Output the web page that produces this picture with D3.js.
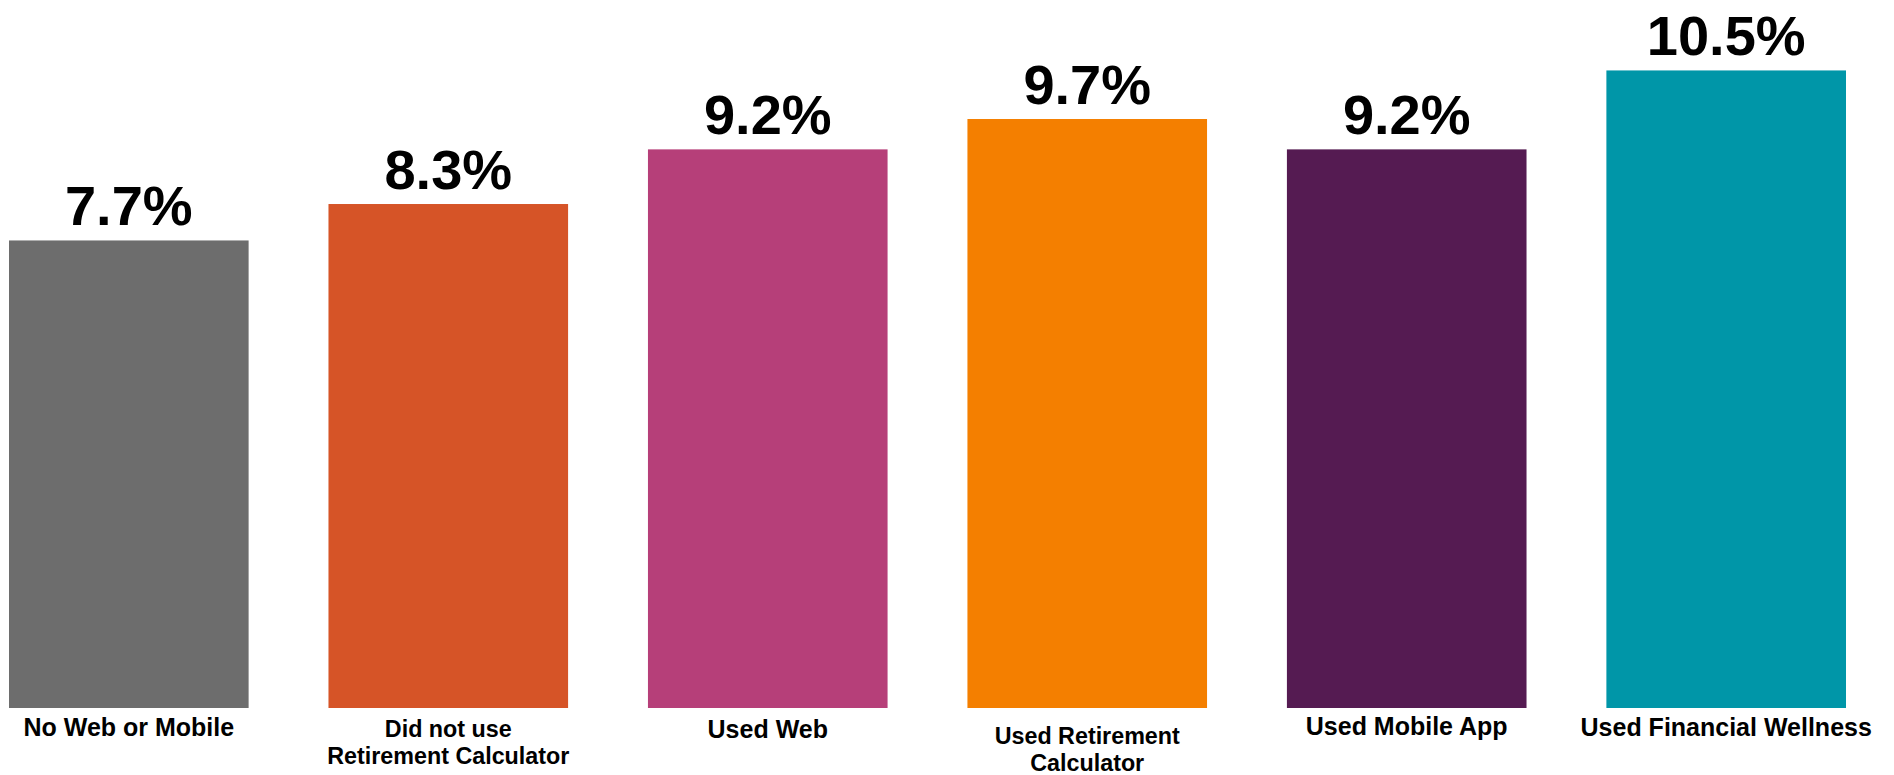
<!DOCTYPE html>
<html>
<head>
<meta charset="utf-8">
<script src="https://cdn.jsdelivr.net/npm/d3@7"></script>
<style>
  html, body { margin: 0; padding: 0; background: #ffffff; }
  svg { display: block; }
  text { font-family: "Liberation Sans", Arial, Helvetica, sans-serif; font-weight: bold; fill: #000; }
</style>
</head>
<body>
<svg id="chart" width="1894" height="775"></svg>
<script>
// Categories (each entry is split into the lines shown under its bar)
const categories = [
  ["No Web or Mobile"],
  ["Did not use", "Retirement Calculator"],
  ["Used Web"],
  ["Used Retirement", "Calculator"],
  ["Used Mobile App"],
  ["Used Financial Wellness"]
];
// Share of salary saved, in percent
const values = [7.7, 8.3, 9.2, 9.7, 9.2, 10.5];
const colors = ["#6d6d6d", "#d65427", "#b63f79", "#f47f00", "#551b52", "#0096a8"];

const svg = d3.select("#chart");
const keys = categories.map(c => c.join(" "));

const x = d3.scaleBand()
  .domain(keys)
  .range([9, 1846])
  .paddingInner(0.25)
  .paddingOuter(0);

const baseline = 708;
const y = d3.scaleLinear()
  .domain([0, 11.66])
  .range([baseline, 0]);

const data = keys.map((k, i) => ({ key: k, lines: categories[i], value: values[i], color: colors[i] }));

// Bars
svg.append("g")
  .selectAll("rect")
  .data(data)
  .join("rect")
  .attr("x", d => x(d.key))
  .attr("y", d => y(d.value))
  .attr("width", x.bandwidth())
  .attr("height", d => y(0) - y(d.value))
  .attr("fill", d => d.color);

// Value labels above bars
svg.append("g")
  .selectAll("text")
  .data(data)
  .join("text")
  .attr("x", d => x(d.key) + x.bandwidth() / 2)
  .attr("y", d => y(d.value) - 15)
  .attr("text-anchor", "middle")
  .style("font-size", "56px")
  .text(d => d.value.toFixed(1) + "%");

// Category labels under the bars; two-line labels are set a little smaller
const firstLineY = [736, 737, 738, 744, 735, 736];
const catG = svg.append("g");
data.forEach((d, i) => {
  const two = d.lines.length > 1;
  const t = catG.append("text")
    .attr("x", x(d.key) + x.bandwidth() / 2)
    .attr("y", firstLineY[i])
    .attr("text-anchor", "middle")
    .style("font-size", two ? "23.3px" : "25px");
  d.lines.forEach((line, j) => {
    t.append("tspan")
      .attr("x", x(d.key) + x.bandwidth() / 2)
      .attr("dy", j === 0 ? 0 : 27)
      .text(line);
  });
});
</script>
</body>
</html>
